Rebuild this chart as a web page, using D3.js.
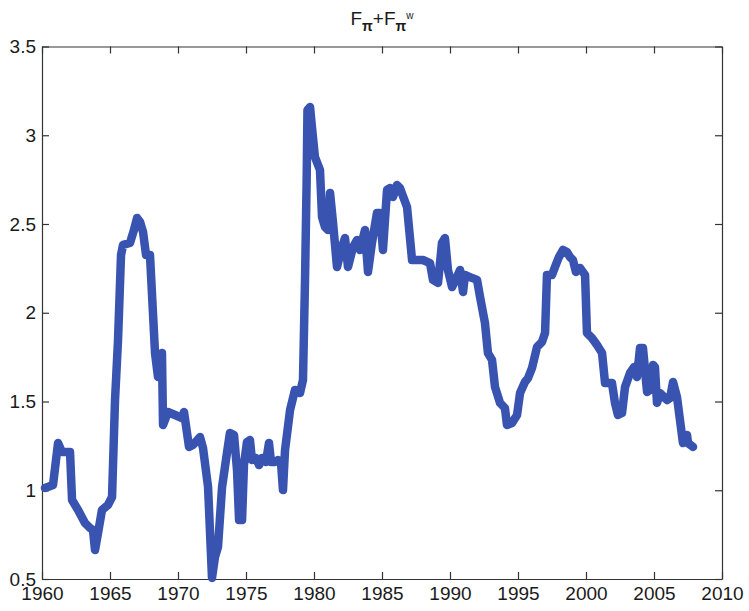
<!DOCTYPE html>
<html>
<head>
<meta charset="utf-8">
<script src="https://cdn.jsdelivr.net/npm/d3@7"></script>
<style>
  html, body { margin: 0; padding: 0; background: #fff; }
  svg { display: block; }
  text { font-family: "Liberation Sans", Arial, Helvetica, sans-serif; }
</style>
</head>
<body>
<svg id="chart" width="749" height="611"></svg>
<script>
// ---- data ----
const years = [
  1960.22, 1960.81, 1961.18, 1961.47, 1962.06, 1962.21, 1962.65, 1963.16, 1963.53, 1963.75,
  1963.90, 1964.12, 1964.41, 1964.85, 1965.15, 1965.37, 1965.59, 1965.81, 1965.96, 1966.47,
  1966.76, 1966.99, 1967.21, 1967.43, 1967.65, 1967.94, 1968.16, 1968.31, 1968.53, 1968.82,
  1968.90, 1969.26, 1969.78, 1970.29, 1970.44, 1970.81, 1971.10, 1971.62, 1971.84, 1972.21,
  1972.50, 1972.72, 1972.94, 1973.24, 1973.60, 1973.82, 1974.12, 1974.34, 1974.49, 1974.71,
  1974.85, 1975.07, 1975.29, 1975.44, 1975.74, 1975.96, 1976.18, 1976.47, 1976.69, 1976.84,
  1977.13, 1977.35, 1977.57, 1977.72, 1977.87, 1978.24, 1978.60, 1978.97, 1979.19, 1979.34,
  1979.46, 1979.52, 1979.71, 1979.85, 1980.07, 1980.44, 1980.59, 1980.81, 1981.03, 1981.18,
  1981.40, 1981.69, 1982.06, 1982.28, 1982.50, 1982.87, 1983.16, 1983.38, 1983.75, 1983.97,
  1984.26, 1984.63, 1984.85, 1985.07, 1985.37, 1985.59, 1985.81, 1986.10, 1986.32, 1986.84,
  1987.21, 1988.01, 1988.53, 1988.75, 1989.12, 1989.41, 1989.63, 1989.85, 1990.15, 1990.51,
  1990.74, 1990.96, 1991.10, 1991.47, 1991.99, 1992.21, 1992.57, 1992.79, 1993.09, 1993.31,
  1993.68, 1994.04, 1994.19, 1994.56, 1994.93, 1995.15, 1995.51, 1995.74, 1996.03, 1996.40,
  1996.76, 1996.99, 1997.13, 1997.50, 1997.72, 1998.01, 1998.31, 1998.60, 1998.82, 1999.04,
  1999.26, 1999.56, 1999.93, 2000.07, 2000.44, 2000.81, 2001.18, 2001.40, 2001.91, 2002.13,
  2002.35, 2002.65, 2002.87, 2003.24, 2003.53, 2003.75, 2003.97, 2004.19, 2004.49, 2004.71,
  2004.93, 2005.07, 2005.22, 2005.44, 2005.96, 2006.18, 2006.40, 2006.69, 2007.13, 2007.43,
  2007.50, 2007.87
];
const values = [
  1.013, 1.030, 1.266, 1.215, 1.215, 0.945, 0.889, 0.815, 0.787, 0.776,
  0.663, 0.759, 0.889, 0.917, 0.962, 1.508, 1.846, 2.325, 2.382, 2.393,
  2.466, 2.534, 2.511, 2.455, 2.325, 2.325, 1.999, 1.773, 1.638, 1.773,
  1.368, 1.441, 1.424, 1.407, 1.441, 1.244, 1.255, 1.300, 1.238, 1.018,
  0.506, 0.624, 0.680, 1.018, 1.210, 1.323, 1.311, 1.114, 0.832, 0.832,
  1.142, 1.272, 1.283, 1.170, 1.182, 1.142, 1.182, 1.159, 1.266, 1.159,
  1.159, 1.170, 1.159, 1.001, 1.227, 1.452, 1.565, 1.548, 1.621, 2.185,
  2.748, 3.142, 3.159, 3.046, 2.877, 2.804, 2.539, 2.483, 2.466, 2.675,
  2.506, 2.258, 2.370, 2.421, 2.258, 2.370, 2.410, 2.354, 2.466, 2.230,
  2.393, 2.562, 2.562, 2.354, 2.692, 2.703, 2.652, 2.720, 2.703, 2.596,
  2.297, 2.297, 2.280, 2.185, 2.168, 2.393, 2.421, 2.241, 2.145, 2.201,
  2.241, 2.117, 2.213, 2.201, 2.185, 2.089, 1.942, 1.773, 1.734, 1.582,
  1.492, 1.463, 1.368, 1.379, 1.424, 1.548, 1.610, 1.632, 1.689, 1.807,
  1.835, 1.886, 2.213, 2.213, 2.258, 2.314, 2.354, 2.342, 2.314, 2.297,
  2.230, 2.252, 2.213, 1.886, 1.858, 1.818, 1.773, 1.604, 1.604, 1.492,
  1.424, 1.435, 1.582, 1.661, 1.694, 1.638, 1.801, 1.801, 1.554, 1.565,
  1.706, 1.694, 1.492, 1.548, 1.508, 1.520, 1.610, 1.525, 1.266, 1.311,
  1.266, 1.244
];
const xTicks = [1960, 1965, 1970, 1975, 1980, 1985, 1990, 1995, 2000, 2005, 2010];
const yTicks = [0.5, 1, 1.5, 2, 2.5, 3, 3.5];
const yTickLabels = ["0.5", "1", "1.5", "2", "2.5", "3", "3.5"];

// ---- layout ----
const L = 42, R = 722, T = 46.5, B = 579;
const svg = d3.select("#chart");
const x = d3.scaleLinear().domain([1960, 2010]).range([L, R]);
const y = d3.scaleLinear().domain([0.5, 3.5]).range([B, T]);

const fontSize = 19;
const axisColor = "#333";
const tickLen = 7;

function styleAxis(g) {
  g.selectAll("path.domain").attr("stroke", axisColor).attr("stroke-width", 1.2);
  g.selectAll(".tick line").attr("stroke", axisColor).attr("stroke-width", 1.2);
  g.selectAll(".tick text").attr("fill", "#1a1a1a").attr("font-size", fontSize)
    .attr("font-family", '"Liberation Sans", Arial, sans-serif');
}

// bottom
svg.append("g").attr("transform", `translate(0,${B})`)
  .call(d3.axisBottom(x).tickValues(xTicks).tickFormat(d3.format("d"))
    .tickSizeInner(-tickLen).tickSizeOuter(0).tickPadding(8))
  .call(styleAxis);
// top
svg.append("g").attr("transform", `translate(0,${T})`)
  .call(d3.axisTop(x).tickValues(xTicks).tickFormat("")
    .tickSizeInner(-tickLen).tickSizeOuter(0))
  .call(styleAxis);
// left
svg.append("g").attr("transform", `translate(${L},0)`)
  .call(d3.axisLeft(y).tickValues(yTicks).tickFormat((d, i) => yTickLabels[i])
    .tickSizeInner(-tickLen).tickSizeOuter(0).tickPadding(6))
  .call(styleAxis);
// right
svg.append("g").attr("transform", `translate(${R},0)`)
  .call(d3.axisRight(y).tickValues(yTicks).tickFormat("")
    .tickSizeInner(-tickLen).tickSizeOuter(0))
  .call(styleAxis);

// ---- line ----
const data = years.map((yr, i) => ({ yr, v: values[i] }));
svg.append("path")
  .datum(data)
  .attr("fill", "none")
  .attr("stroke", "#3953b1")
  .attr("stroke-width", 8.5)
  .attr("stroke-linejoin", "round")
  .attr("stroke-linecap", "round")
  .attr("d", d3.line().x(d => x(d.yr)).y(d => y(d.v)));

// ---- title ----
const title = svg.append("text")
  .attr("x", (L + R) / 2)
  .attr("y", 25)
  .attr("text-anchor", "middle")
  .attr("font-size", 19)
  .attr("fill", "#1a1a1a");
title.append("tspan").text("F");
title.append("tspan").attr("font-size", 14).attr("dy", 6).attr("font-weight", "bold").text("π");
title.append("tspan").attr("dy", -6).text("+F");
title.append("tspan").attr("font-size", 14).attr("dy", 6).attr("font-weight", "bold").text("π");
title.append("tspan").attr("font-size", 10).attr("dy", -12).text("w");
</script>
</body>
</html>
